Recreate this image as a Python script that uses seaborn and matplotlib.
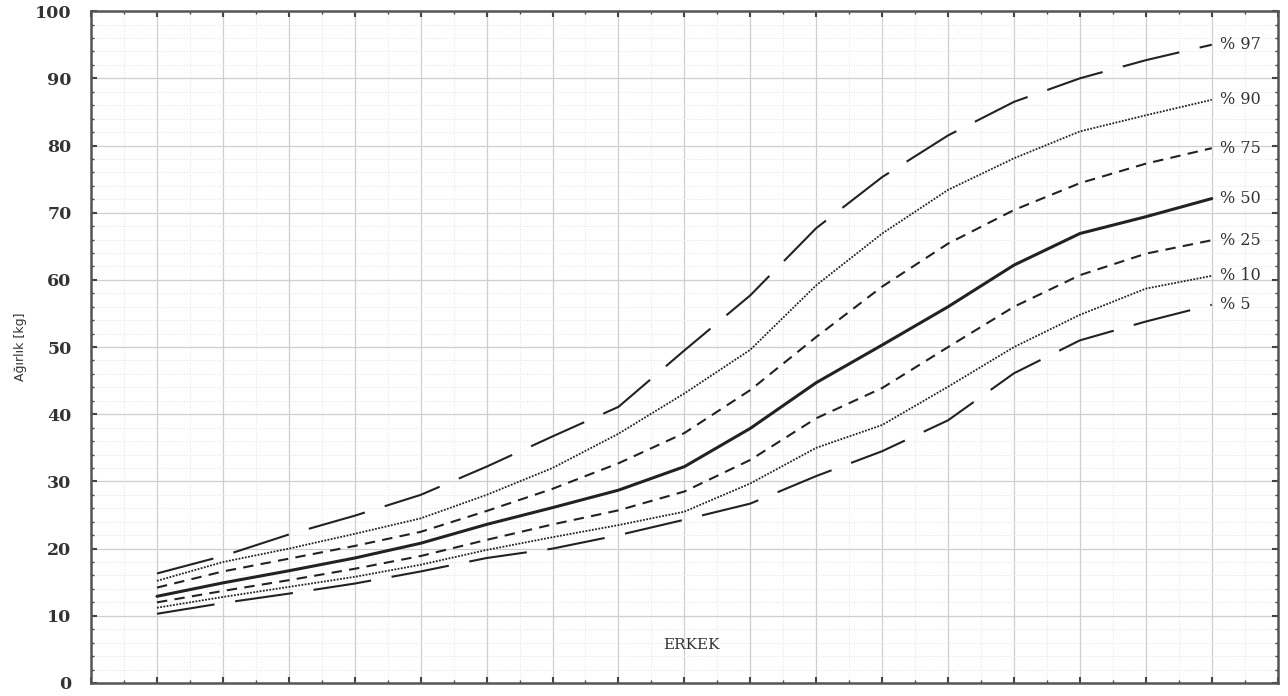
import matplotlib
matplotlib.use("Agg")
import matplotlib.pyplot as plt
import seaborn as sns
import pandas as pd
from matplotlib.ticker import MultipleLocator

# Ağırlık persentil eğrileri (erkek), yaş 2-18
ages = [2, 3, 4, 5, 6, 7, 8, 9, 10, 11, 12, 13, 14, 15, 16, 17, 18]
p97 = [16.3, 18.9, 22.1, 24.9, 28.0, 32.2, 36.7, 41.1, 49.5, 57.7, 67.7, 75.3, 81.5, 86.5, 90.0, 92.7, 95.0]
p90 = [15.2, 18.0, 20.0, 22.2, 24.5, 28.0, 32.0, 37.1, 43.1, 49.6, 59.2, 66.9, 73.4, 78.1, 82.1, 84.5, 86.8]
p75 = [14.2, 16.6, 18.5, 20.4, 22.5, 25.6, 28.9, 32.7, 37.2, 43.6, 51.5, 59.0, 65.4, 70.4, 74.4, 77.3, 79.6]
p50 = [12.9, 14.9, 16.7, 18.6, 20.8, 23.6, 26.1, 28.7, 32.2, 37.9, 44.7, 50.3, 56.0, 62.2, 66.9, 69.4, 72.1]
p25 = [12.0, 13.7, 15.3, 17.0, 18.9, 21.3, 23.6, 25.7, 28.5, 33.2, 39.4, 43.9, 50.0, 56.0, 60.7, 63.9, 65.9]
p10 = [11.2, 12.8, 14.3, 15.8, 17.6, 19.8, 21.7, 23.5, 25.5, 29.7, 35.0, 38.4, 44.1, 50.0, 54.8, 58.7, 60.6]
p5 = [10.3, 11.9, 13.3, 14.8, 16.6, 18.6, 20.0, 22.0, 24.3, 26.7, 30.8, 34.5, 39.1, 46.1, 51.0, 53.8, 56.3]

labels = ["% 97", "% 90", "% 75", "% 50", "% 25", "% 10", "% 5"]
series = [p97, p90, p75, p50, p25, p10, p5]

# line styles: long dash / dotted / short dash / solid
styles = [(0, (28, 10)), (0, (1, 0.8)), (0, (5, 3.5)), "-", (0, (5, 3.5)), (0, (1, 0.8)), (0, (28, 10))]
widths = [1.5, 1.3, 1.5, 2.2, 1.5, 1.3, 1.5]

sns.set_style("white")
plt.rcParams["font.family"] = ["DejaVu Serif"]

fig = plt.figure(figsize=(12.88, 6.96), dpi=100)
ax = fig.add_axes([0.0707, 0.0187, 0.9213, 0.9653])

for lab, vals, ls, lw in zip(labels, series, styles, widths):
    df = pd.DataFrame({"yas": ages, "agirlik": vals})
    sns.lineplot(data=df, x="yas", y="agirlik", ax=ax, color="#222222",
                 linestyle=ls, linewidth=lw)
    ax.text(ages[-1] + 0.12, vals[-1], lab, fontsize=11.5, color="#333333",
            va="center", ha="left")

ax.text(10.1, 5.6, "ERKEK", fontsize=11, color="#333333", ha="center", va="center")

ax.set_xlim(1, 19)
ax.set_ylim(0, 100)
ax.xaxis.set_major_locator(MultipleLocator(1))
ax.xaxis.set_minor_locator(MultipleLocator(0.5))
ax.yaxis.set_major_locator(MultipleLocator(10))
ax.yaxis.set_minor_locator(MultipleLocator(2))

ax.grid(which="major", color="#cfcfcf", linewidth=0.9)
ax.grid(which="minor", color="#e4e4e4", linewidth=0.7, linestyle=":")

ax.tick_params(axis="both", which="both", direction="in", top=True, right=True,
               bottom=True, left=True, colors="#444444")
ax.tick_params(which="major", length=4, width=1.5)
ax.tick_params(which="minor", length=2.5, width=1)
ax.tick_params(axis="x", labelbottom=False)
ax.tick_params(axis="y", labelsize=12.5, pad=14)
for t in ax.get_yticklabels():
    t.set_fontweight("bold")
    t.set_color("#333333")

for s in ax.spines.values():
    s.set_visible(True)
    s.set_color("#555555")
    s.set_linewidth(1.8)

ax.set_xlabel("")
ax.set_ylabel("Ağırlık [kg]", fontsize=9, family=["DejaVu Sans"], color="#333333", labelpad=6)

fig.savefig("out.png", dpi=100)
